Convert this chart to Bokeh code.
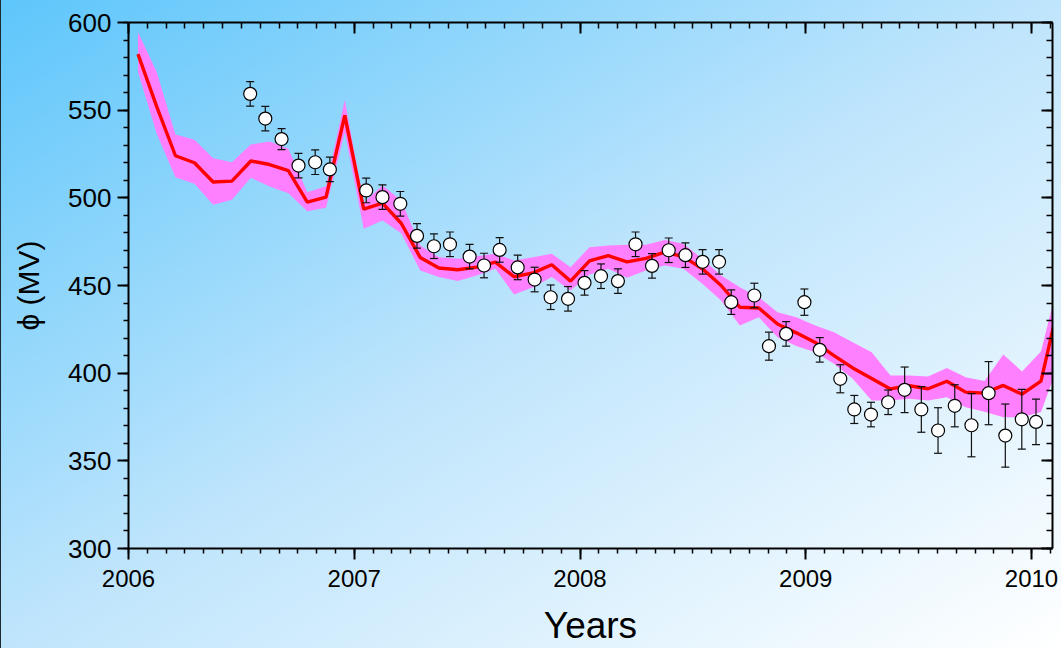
from bokeh.plotting import figure
from bokeh.models import (LinearAxis, SingleIntervalTicker, CustomJSTickFormatter,
                          ColumnDataSource)
from bokeh.embed import file_html
from bokeh.resources import INLINE

# Modelled modulation potential (monthly), with its uncertainty band
model_t = [2006.042, 2006.125, 2006.208, 2006.292, 2006.375, 2006.458, 2006.542, 2006.625,
           2006.708, 2006.792, 2006.875, 2006.958,
           2007.042, 2007.125, 2007.208, 2007.292, 2007.375, 2007.458, 2007.542, 2007.625,
           2007.708, 2007.792, 2007.875, 2007.958,
           2008.042, 2008.125, 2008.208, 2008.292, 2008.375, 2008.458, 2008.542, 2008.625,
           2008.708, 2008.792, 2008.875, 2008.958,
           2009.042, 2009.125, 2009.208, 2009.292, 2009.375, 2009.458, 2009.542, 2009.625,
           2009.708, 2009.792, 2009.875, 2009.958,
           2010.042, 2010.125]
model_phi = [582, 552, 524, 520, 509, 509.5, 521, 519, 515.5, 497.5, 500.4, 547,
             493.5, 497, 485.5, 466, 460, 459, 460.5, 463.3, 455, 457.2, 461.8, 452.5,
             464, 467, 463.5, 465.5, 469, 466.5, 459.5, 450, 437.6, 437.2, 428, 423,
             417.5, 410, 403, 397, 391, 392.8, 391.1, 395.4, 389.2, 388.6, 393, 388,
             395.5, 442]
band_hi = [594.5, 571.7, 536.1, 533.1, 522.6, 520.3, 530.4, 532.1, 528.0, 503.2, 506.6, 555.9,
           497.2, 507.0, 498.5, 472.8, 466.1, 465.2, 466.7, 468.1, 464.3, 466.1, 468.1, 460.4,
           471.8, 472.8, 473.2, 473.2, 476.0, 473.8, 465.2, 455.7, 449.0, 443.3, 434.8, 431.9,
           427.2, 423.4, 417.7, 412.0, 398.7, 398.7, 398.1, 403.0, 397.7, 395.5, 410.6, 401.0,
           412.4, 455]
band_lo = [571.7, 536.5, 511.8, 508.0, 496.0, 498.9, 511.4, 506.5, 502.6, 492.4, 494.3, 537.4,
           482.3, 487.1, 479.8, 458.6, 454.8, 452.5, 455.7, 459.5, 444.9, 449.0, 454.8, 447.1,
           456.3, 459.5, 454.4, 458.6, 461.4, 459.5, 451.0, 441.4, 427.2, 431.9, 420.5, 415.5,
           412.0, 405.3, 396.8, 384.4, 384.4, 385.4, 384.4, 386.3, 380.6, 378.0, 374.9, 374.9,
           377.8, 407]

# Measured values with their errors
obs_t = [2006.539, 2006.606, 2006.678, 2006.753, 2006.827, 2006.892,
         2007.053, 2007.125, 2007.204, 2007.278, 2007.353, 2007.424, 2007.511, 2007.575,
         2007.644, 2007.724, 2007.799, 2007.870, 2007.947,
         2008.020, 2008.093, 2008.168, 2008.246, 2008.319, 2008.393, 2008.467, 2008.543,
         2008.616, 2008.670, 2008.772, 2008.837, 2008.913, 2008.994,
         2009.062, 2009.153, 2009.215, 2009.289, 2009.365, 2009.438, 2009.512, 2009.586,
         2009.660, 2009.734, 2009.810, 2009.884, 2009.957,
         2010.020]
obs_phi = [559.3, 545.2, 533.5, 518.4, 520.3, 516.2,
           504.2, 500.4, 496.6, 478.3, 472.4, 473.5, 466.5, 461.4, 470.3, 460.3, 453.4,
           443.3, 442.4,
           451.5, 455.3, 452.5, 473.5, 461.2, 470.1, 467.3, 463.5, 463.5, 440.5, 444.3,
           415.4, 422.4, 440.5,
           413.3, 396.8, 379.3, 376.4, 383.4, 390.5, 379.3, 367.3, 381.4, 370.3, 388.6,
           364.4, 373.7,
           372.2]
obs_err = [7, 7, 6, 7, 7, 7,
           7, 7, 7, 7, 7, 7, 7, 7, 7, 7, 7, 7, 7,
           7, 7, 7, 7, 7, 7, 7, 7, 7, 7, 7, 8, 7, 7.5,
           7, 8, 8, 7, 7, 13, 13, 13, 12, 18, 18, 18, 17,
           13]

x_ticks_interval = 1
y_ticks_interval = 50

FONT = "Liberation Sans"

model = ColumnDataSource(dict(t=model_t, phi=model_phi, hi=band_hi, lo=band_lo))
obs = ColumnDataSource(dict(
    t=obs_t, phi=obs_phi,
    top=[v + e for v, e in zip(obs_phi, obs_err)],
    bot=[v - e for v, e in zip(obs_phi, obs_err)],
))

p = figure(width=1061, height=648, x_range=(2006, 2010.093), y_range=(300, 600),
           output_backend="svg", toolbar_location=None,
           min_border_left=128, min_border_right=9, min_border_top=22,
           min_border_bottom=100)
p.background_fill_color = None
p.border_fill_color = None
p.outline_line_color = None
p.grid.visible = False
p.styles = {
    "background": "linear-gradient(to right, #1e2a33 0px, #1e2a33 1px, transparent 1px), "
                  "linear-gradient(to bottom right, #5ec6fb 0%, #bfe5fc 50%, #ffffff 100%)"
}

# uncertainty band, model curve, measurements
p.varea(x="t", y1="lo", y2="hi", source=model, fill_color="#ff80ff")
p.line(x="t", y="phi", source=model, line_color="#ff0000", line_width=3.4)
p.segment(x0="t", y0="bot", x1="t", y1="top", source=obs, line_color="#111111", line_width=1.2)
p.scatter(x="t", y="top", source=obs, marker="dash", size=8, line_color="#111111", line_width=1.2)
p.scatter(x="t", y="bot", source=obs, marker="dash", size=8, line_color="#111111", line_width=1.2)
p.scatter(x="t", y="phi", source=obs, marker="circle", size=13, fill_color="white",
          line_color="black", line_width=1.2)

xt = SingleIntervalTicker(interval=x_ticks_interval, num_minor_ticks=12)
yt = SingleIntervalTicker(interval=y_ticks_interval, num_minor_ticks=5)


def style_axis(ax, inward):
    ax.axis_line_width = 2
    ax.axis_line_color = "black"
    ax.major_tick_line_color = "black"
    ax.minor_tick_line_color = "black"
    ax.major_tick_line_width = 2
    ax.minor_tick_line_width = 1.5
    if inward:
        ax.major_tick_in, ax.major_tick_out = 11, 0
        ax.minor_tick_in, ax.minor_tick_out = 6, 0
        ax.formatter = CustomJSTickFormatter(code="return ''")
    else:
        ax.major_tick_in, ax.major_tick_out = 0, 11
        ax.minor_tick_in, ax.minor_tick_out = 0, 5
    ax.major_label_text_font = FONT
    ax.major_label_text_color = "black"
    ax.axis_label_text_font = FONT
    ax.axis_label_text_color = "black"
    ax.axis_label_text_font_style = "normal"


xb = p.xaxis[0]
xb.ticker = xt
style_axis(xb, False)
xb.major_label_text_font_size = "24px"
xb.major_label_standoff = 10
xb.axis_label = "Years"
xb.axis_label_text_font_size = "37px"
xb.axis_label_text_line_height = 1.0
xb.axis_label_standoff = 15

yl = p.yaxis[0]
yl.ticker = yt
style_axis(yl, False)
yl.major_label_text_font_size = "26px"
yl.major_label_standoff = 6
yl.axis_label = "\u03d5 (MV)"
yl.axis_label_text_font_size = "30px"
yl.axis_label_standoff = 20

xtop = LinearAxis(ticker=xt)
style_axis(xtop, True)
p.add_layout(xtop, "above")

yright = LinearAxis(ticker=yt)
style_axis(yright, True)
p.add_layout(yright, "right")

open("out.html", "w").write(file_html(p, INLINE))
